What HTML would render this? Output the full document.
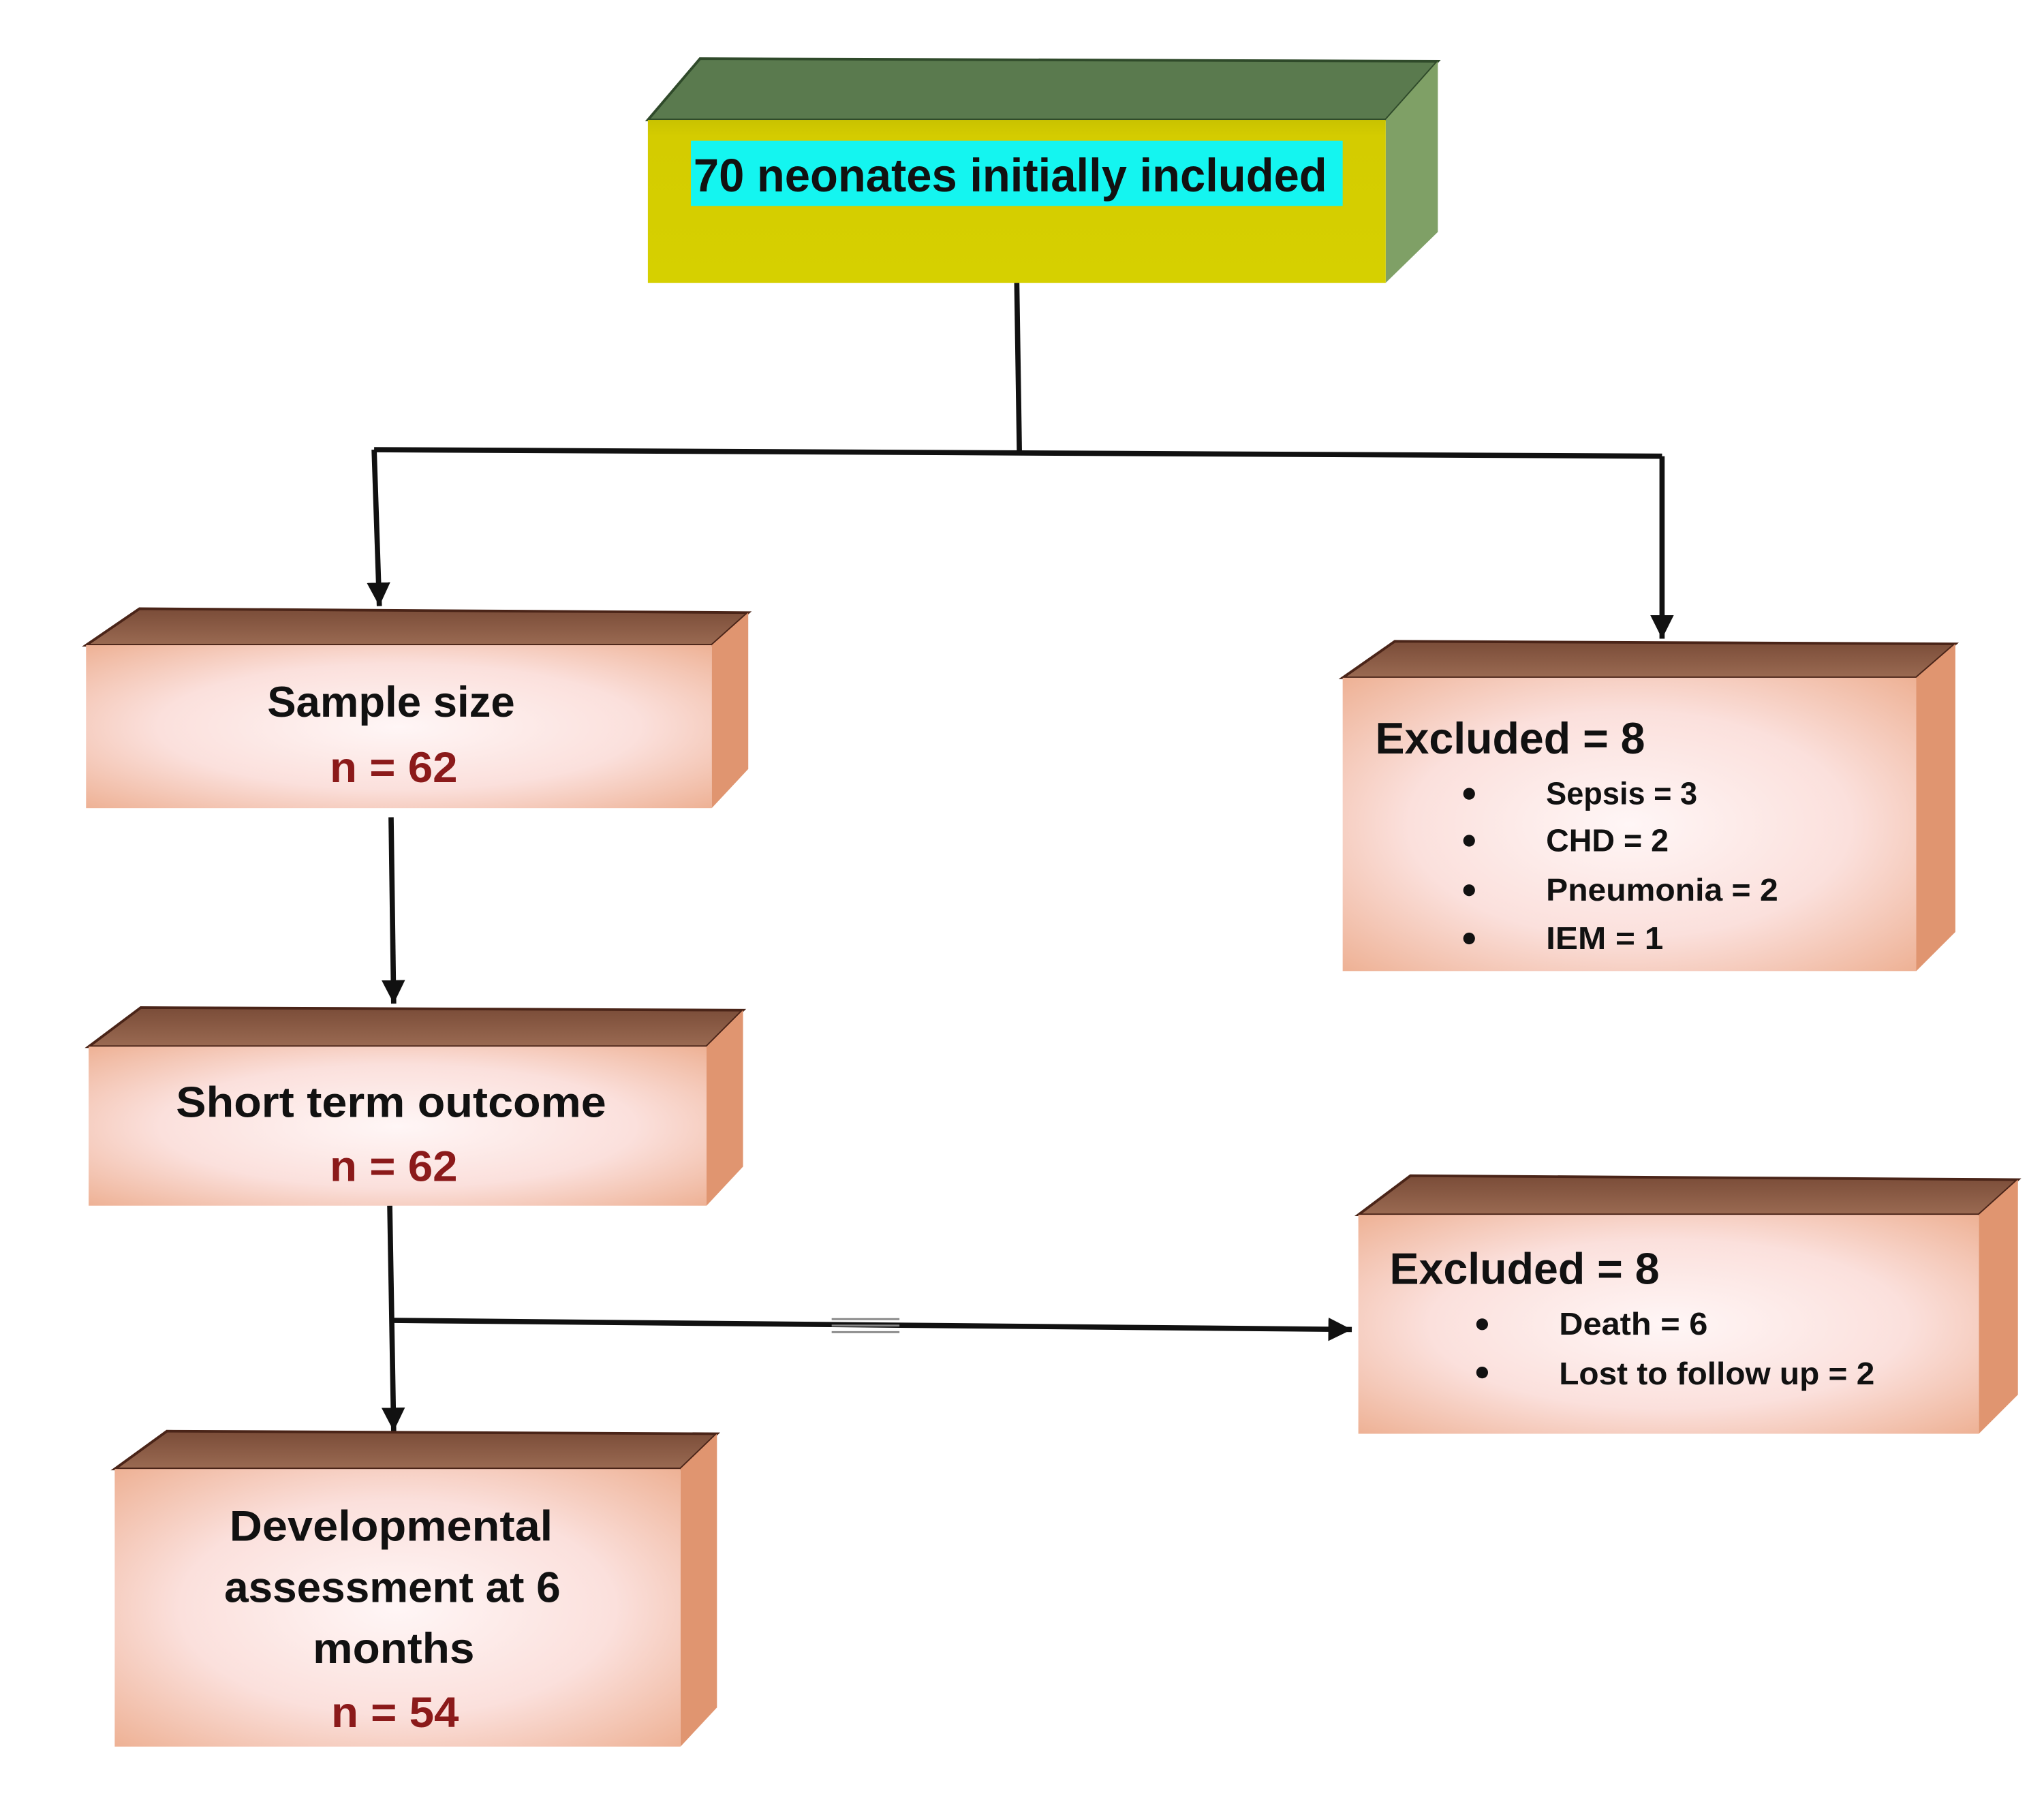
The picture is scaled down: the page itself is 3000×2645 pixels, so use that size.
<!DOCTYPE html>
<html><head><style>html,body{margin:0;padding:0;background:#fff}svg{display:block}</style></head><body>
<svg width="3000" height="2645" viewBox="0 0 1568 1382.5" preserveAspectRatio="none" xmlns="http://www.w3.org/2000/svg" font-family="Liberation Sans, sans-serif" font-weight="bold">
<defs>
<radialGradient id="pk" cx="0.5" cy="0.5" r="0.7">
<stop offset="0" stop-color="#fff6f6"/><stop offset="0.55" stop-color="#fbe0dc"/><stop offset="1" stop-color="#eeb296"/>
</radialGradient>
<linearGradient id="top" x1="0" y1="0" x2="0" y2="1"><stop offset="0" stop-color="#7a4c38"/><stop offset="1" stop-color="#9a6a52"/></linearGradient>
<linearGradient id="yl" x1="0" y1="0" x2="0" y2="1"><stop offset="0" stop-color="#c9c200"/><stop offset="0.1" stop-color="#d4cc00"/><stop offset="1" stop-color="#d6d000"/></linearGradient>
<marker id="ar" markerWidth="10" markerHeight="10" refX="9" refY="5" orient="auto" markerUnits="userSpaceOnUse"><path d="M0,0 L10,5 L0,10 z" fill="#111"/></marker>
<marker id="ar2" markerWidth="20" markerHeight="20" refX="18" refY="9" orient="auto" markerUnits="userSpaceOnUse"><path d="M0,0 L18,9 L0,18 z" fill="#111"/></marker>
</defs>

<!-- Top box -->
<polygon points="497,92 537,45 1103,47 1063,92" fill="#5a7a4e" stroke="#2f4a2a" stroke-width="2"/>
<polygon points="1063,92 1103,47 1103,178 1063,217" fill="#7fa066"/>
<rect x="497" y="92" width="566" height="125" fill="url(#yl)"/>
<rect x="530" y="108" width="500" height="50" fill="#14f5f0"/>
<text x="532" y="147" font-size="36" fill="#111" textLength="486" lengthAdjust="spacingAndGlyphs">70 neonates initially included</text>

<!-- connectors -->
<g stroke="#111" stroke-width="4" fill="none">
<line x1="780" y1="217" x2="782" y2="347"/>
<line x1="287" y1="345" x2="1275" y2="350"/>
<line x1="287" y1="345" x2="291" y2="465" marker-end="url(#ar2)"/>
<line x1="1275" y1="350" x2="1275" y2="490" marker-end="url(#ar2)"/>
<line x1="300" y1="627" x2="302" y2="770" marker-end="url(#ar2)"/>
<line x1="299" y1="925" x2="302" y2="1098" marker-end="url(#ar2)"/>
<line x1="302" y1="1013" x2="1037" y2="1020" marker-end="url(#ar2)"/>
</g>
<g stroke="#888" stroke-width="1.5"><line x1="638" y1="1012" x2="690" y2="1012"/><line x1="638" y1="1017" x2="690" y2="1017"/><line x1="638" y1="1022" x2="690" y2="1022"/></g>

<!-- Sample size -->
<polygon points="66,495 107,467 574,470 546,495" fill="url(#top)" stroke="#4a2418" stroke-width="2"/>
<polygon points="546,495 574,470 574,590 546,620" fill="#e09570"/>
<rect x="66" y="495" width="480" height="125" fill="url(#pk)"/>
<text x="300" y="550" font-size="33" text-anchor="middle" fill="#111" textLength="190" lengthAdjust="spacingAndGlyphs">Sample size</text>
<text x="302" y="600" font-size="33" text-anchor="middle" fill="#8b1a1a" textLength="98" lengthAdjust="spacingAndGlyphs">n = 62</text>

<!-- Excluded 1 -->
<polygon points="1030,520 1070,492 1500,494 1470,520" fill="url(#top)" stroke="#4a2418" stroke-width="2"/>
<polygon points="1470,520 1500,494 1500,715 1470,745" fill="#e09570"/>
<rect x="1030" y="520" width="440" height="225" fill="url(#pk)"/>
<text x="1055" y="578" font-size="34" fill="#111" textLength="207" lengthAdjust="spacingAndGlyphs">Excluded = 8</text>
<g font-size="24" fill="#111">
<circle cx="1127" cy="609" r="4.5"/><text x="1186" y="617" textLength="116" lengthAdjust="spacingAndGlyphs">Sepsis = 3</text>
<circle cx="1127" cy="645" r="4.5"/><text x="1186" y="653" textLength="94" lengthAdjust="spacingAndGlyphs">CHD = 2</text>
<circle cx="1127" cy="683" r="4.5"/><text x="1186" y="691" textLength="178" lengthAdjust="spacingAndGlyphs">Pneumonia = 2</text>
<circle cx="1127" cy="720" r="4.5"/><text x="1186" y="728" textLength="90" lengthAdjust="spacingAndGlyphs">IEM = 1</text>
</g>

<!-- Short term -->
<polygon points="68,803 108,773 570,775 542,803" fill="url(#top)" stroke="#4a2418" stroke-width="2"/>
<polygon points="542,803 570,775 570,895 542,925" fill="#e09570"/>
<rect x="68" y="803" width="474" height="122" fill="url(#pk)"/>
<text x="300" y="857" font-size="33" text-anchor="middle" fill="#111" textLength="330" lengthAdjust="spacingAndGlyphs">Short term outcome</text>
<text x="302" y="906" font-size="33" text-anchor="middle" fill="#8b1a1a" textLength="98" lengthAdjust="spacingAndGlyphs">n = 62</text>

<!-- Developmental -->
<polygon points="88,1127 128,1098 550,1100 522,1127" fill="url(#top)" stroke="#4a2418" stroke-width="2"/>
<polygon points="522,1127 550,1100 550,1310 522,1340" fill="#e09570"/>
<rect x="88" y="1127" width="434" height="213" fill="url(#pk)"/>
<g font-size="33" text-anchor="middle">
<text x="300" y="1182" fill="#111" textLength="248" lengthAdjust="spacingAndGlyphs">Developmental</text>
<text x="301" y="1229" fill="#111" textLength="258" lengthAdjust="spacingAndGlyphs">assessment at 6</text>
<text x="302" y="1276" fill="#111" textLength="124" lengthAdjust="spacingAndGlyphs">months</text>
<text x="303" y="1325" fill="#8b1a1a" textLength="98" lengthAdjust="spacingAndGlyphs">n = 54</text>
</g>

<!-- Excluded 2 -->
<polygon points="1042,932 1082,902 1548,905 1518,932" fill="url(#top)" stroke="#4a2418" stroke-width="2"/>
<polygon points="1518,932 1548,905 1548,1070 1518,1100" fill="#e09570"/>
<rect x="1042" y="932" width="476" height="168" fill="url(#pk)"/>
<text x="1066" y="985" font-size="34" fill="#111" textLength="207" lengthAdjust="spacingAndGlyphs">Excluded = 8</text>
<g font-size="24" fill="#111">
<circle cx="1137" cy="1016" r="4.5"/><text x="1196" y="1024" textLength="114" lengthAdjust="spacingAndGlyphs">Death = 6</text>
<circle cx="1137" cy="1053" r="4.5"/><text x="1196" y="1062" textLength="242" lengthAdjust="spacingAndGlyphs">Lost to follow up = 2</text>
</g>
</svg>
</body></html>
